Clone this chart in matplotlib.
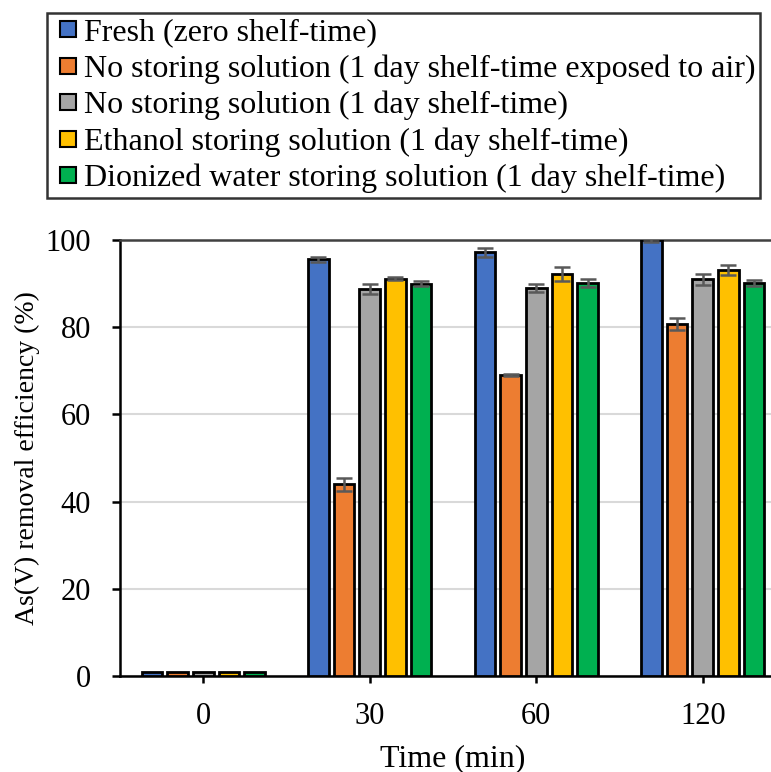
import numpy as np
import matplotlib.pyplot as plt
from matplotlib.lines import Line2D

plt.rcParams['font.family'] = ['Liberation Serif', 'DejaVu Serif']

times = ['0', '30', '60', '120']
series = [
    'Fresh (zero shelf-time)',
    'No storing solution (1 day shelf-time exposed to air)',
    'No storing solution (1 day shelf-time)',
    'Ethanol storing solution (1 day shelf-time)',
    'Dionized water storing solution (1 day shelf-time)',
]
colors = ['#4472C4', '#ED7D31', '#A5A5A5', '#FFC000', '#00B050']

fresh = [1.0, 95.6, 97.2, 99.9]
no_sol_air = [1.0, 44.0, 69.0, 80.7]
no_sol = [1.0, 88.8, 89.0, 91.0]
ethanol = [1.0, 91.1, 92.3, 93.1]
di_water = [1.0, 90.0, 90.1, 90.1]

fresh_err = [0, 0.6, 1.0, 0.3]
no_sol_air_err = [0, 1.5, 0.3, 1.4]
no_sol_err = [0, 1.2, 1.0, 1.3]
ethanol_err = [0, 0.3, 1.6, 1.2]
di_water_err = [0, 0.6, 0.9, 0.7]

values = [fresh, no_sol_air, no_sol, ethanol, di_water]
errors = [fresh_err, no_sol_air_err, no_sol_err, ethanol_err, di_water_err]

fig = plt.figure(figsize=(7.71, 7.72), dpi=100)
# plot area runs past the right edge of the figure
ax = fig.add_axes([120 / 771, 96 / 772, 666 / 771, 436 / 772])

x = np.arange(len(times))
step = 0.154
width = 0.124
for i, (vals, errs) in enumerate(zip(values, errors)):
    pos = x + (i - 2) * step
    ax.bar(pos, vals, width, color=colors[i], edgecolor='black',
           linewidth=2, zorder=3)
    errs_shown = np.array(errs)
    mask = errs_shown > 0
    ax.errorbar(pos[mask], np.array(vals)[mask], yerr=errs_shown[mask],
                fmt='none', ecolor='#595959', elinewidth=1.8, capsize=5.5,
                capthick=1.8, zorder=4)

ax.set_xlim(-0.5, 3.5)
ax.set_ylim(0, 100)
ax.set_yticks([0, 20, 40, 60, 80, 100])
ax.set_xticks(x)
ax.set_xticklabels(times)
ax.yaxis.grid(True, color='#D9D9D9', linewidth=1.5, zorder=0)
ax.set_axisbelow(True)

ax.spines['right'].set_visible(False)
ax.spines['top'].set_color('#404040')
ax.spines['top'].set_linewidth(1.8)
ax.spines['left'].set_linewidth(1.8)
ax.spines['bottom'].set_linewidth(1.8)

ax.tick_params(axis='y', direction='out', length=6, width=1.8, labelsize=22, pad=15)
ax.tick_params(axis='x', direction='out', length=5, width=1.8, labelsize=22, pad=14)

ax.set_ylabel('As(V) removal efficiency (%)', fontsize=20, labelpad=4)
ax.set_xlabel('Time (min)', fontsize=23, labelpad=9)

# square swatches for the legend
handles = [Line2D([], [], linestyle='none', marker='s', markersize=11,
                  markerfacecolor=c, markeredgecolor='black',
                  markeredgewidth=1.5) for c in colors]
leg = fig.legend(handles, series, loc='upper left',
                 bbox_to_anchor=(47 / 771, 1 - 13 / 772), fontsize=23,
                 frameon=True, fancybox=False, edgecolor='black',
                 handlelength=1.0, handletextpad=0.0,
                 borderpad=0.15, labelspacing=0.22, borderaxespad=0)
leg.get_frame().set_linewidth(1.8)

plt.savefig('out.png', dpi=100)
